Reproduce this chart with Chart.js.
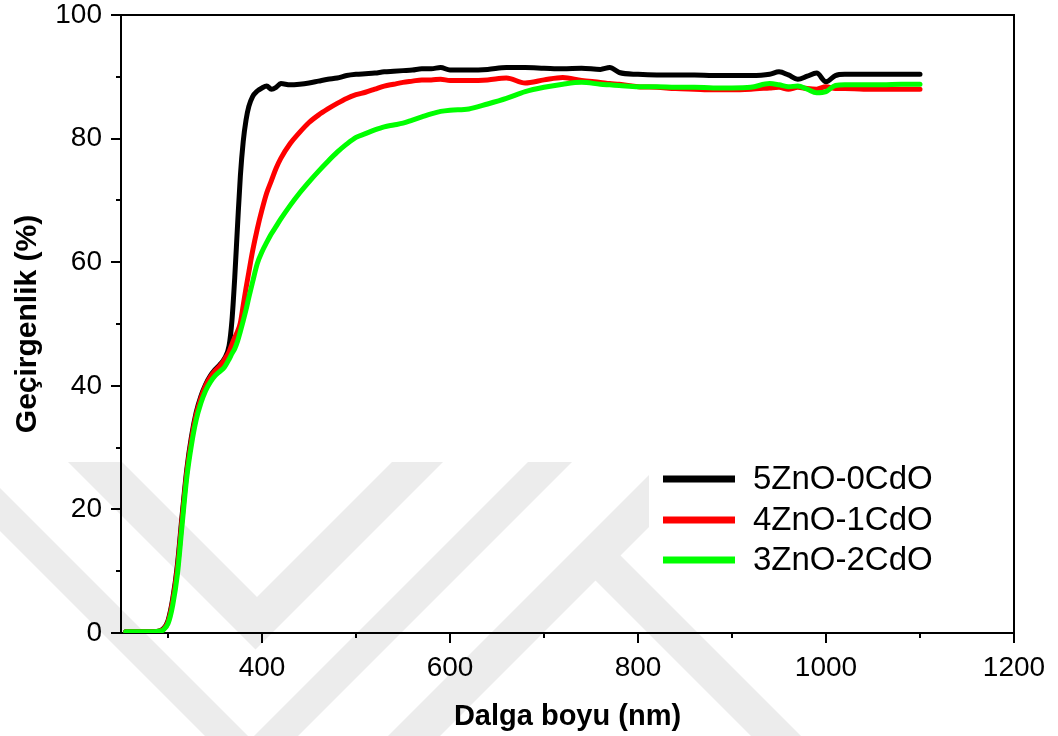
<!DOCTYPE html>
<html>
<head>
<meta charset="utf-8">
<script src="https://cdn.jsdelivr.net/npm/chart.js@4.4.0/dist/chart.umd.min.js"></script>
<style>
  html, body { margin: 0; padding: 0; background: #ffffff; }
  #wrap { width: 1058px; height: 736px; }
</style>
</head>
<body>
<div id="wrap"><canvas id="chart" width="1058" height="736"></canvas></div>
<script>
// Wavelength grid (nm)
const wavelength = [
  255, 260, 270, 280, 290, 295, 300, 305, 310, 315, 320, 325, 330, 335, 340, 345, 350, 355, 360, 365,
  368, 371, 374, 377, 380, 383, 386, 390, 395, 400, 405, 410, 415, 420, 430, 440, 450, 460, 470, 480,
  490, 500, 510, 520, 530, 540, 550, 560, 570, 580, 590, 600, 620, 640, 660, 680, 700, 720, 740, 760,
  770, 780, 800, 820, 840, 860, 880, 900, 920, 940, 950, 960, 970, 980, 990, 1000, 1010, 1020, 1040, 1060,
  1080, 1100
];

// Transmittance (%) of each film
const trans5Zn0Cd = [
  0.2, 0.2, 0.2, 0.2, 0.3, 0.7, 2.0, 5.5, 11.0, 19.0, 26.5, 31.8, 35.7, 38.3, 40.2, 41.6, 42.6, 43.4, 44.4, 46.5,
  50.5, 57.5, 66.0, 74.0, 79.5, 83.0, 85.2, 86.8, 87.7, 88.2, 88.5, 88.0, 88.3, 88.9, 88.7, 88.8, 89.0, 89.3, 89.6, 89.8,
  90.2, 90.4, 90.5, 90.6, 90.8, 90.9, 91.0, 91.1, 91.3, 91.3, 91.5, 91.1, 91.1, 91.2, 91.5, 91.5, 91.4, 91.3, 91.4, 91.2,
  91.5, 90.7, 90.4, 90.3, 90.3, 90.3, 90.2, 90.2, 90.2, 90.4, 90.8, 90.3, 89.6, 90.1, 90.6, 89.2, 90.2, 90.4, 90.4, 90.4,
  90.4, 90.4
];
const trans4Zn1Cd = [
  0.2, 0.2, 0.2, 0.2, 0.3, 0.6, 1.8, 5.2, 10.5, 18.5, 26.0, 31.3, 35.3, 38.0, 40.0, 41.4, 42.4, 43.2, 44.2, 45.5,
  46.7, 47.8, 48.8, 50.2, 53.0, 55.8, 58.4, 61.8, 65.4, 68.5, 71.2, 73.2, 75.2, 76.8, 79.2, 81.0, 82.6, 83.8, 84.8, 85.7,
  86.5, 87.1, 87.5, 88.0, 88.5, 88.8, 89.1, 89.3, 89.5, 89.5, 89.6, 89.4, 89.4, 89.5, 89.8, 89.0, 89.5, 89.9, 89.4, 89.1,
  88.9, 88.8, 88.4, 88.3, 88.1, 88.0, 87.9, 87.9, 88.0, 88.2, 88.3, 88.0, 88.3, 88.1, 88.0, 88.4, 88.1, 88.1, 88.0, 88.0,
  88.0, 88.0
];
const trans3Zn2Cd = [
  0.2, 0.2, 0.2, 0.2, 0.3, 0.5, 1.5, 4.5, 9.5, 17.5, 25.2, 30.5, 34.5, 37.2, 39.2, 40.6, 41.6, 42.3, 43.0, 44.3,
  45.2, 46.0, 47.2, 48.8, 50.5, 52.3, 54.3, 56.8, 59.8, 61.7, 63.2, 64.6, 65.8, 67.0, 69.2, 71.2, 73.0, 74.7, 76.3, 77.8,
  79.1, 80.2, 80.8, 81.4, 81.9, 82.2, 82.5, 83.0, 83.5, 84.0, 84.4, 84.6, 84.8, 85.6, 86.5, 87.6, 88.3, 88.8, 89.1, 88.8,
  88.7, 88.6, 88.4, 88.4, 88.3, 88.3, 88.2, 88.2, 88.3, 88.9, 88.7, 88.4, 88.5, 88.0, 87.4, 87.6, 88.6, 88.7, 88.7, 88.7,
  88.8, 88.8
];

const seriesLabels = ['5ZnO-0CdO', '4ZnO-1CdO', '3ZnO-2CdO'];
const seriesColors = ['#000000', '#ff0000', '#00ff00'];

// Axis ticks
const xMajorTicks = [400, 600, 800, 1000, 1200];
const xMinorTicks = [300, 500, 700, 900, 1100];
const yMajorTicks = [0, 20, 40, 60, 80, 100];
const yMinorTicks = [10, 30, 50, 70, 90];

const FONT = "'Liberation Sans', Arial, Helvetica, sans-serif";

function toPoints(values) {
  return wavelength.map((w, i) => ({ x: w, y: values[i] }));
}

// Faint diagonal page watermark behind the plot
const pageWatermark = {
  id: 'pageWatermark',
  beforeDraw(chart) {
    const { ctx } = chart;
    const shapes = [
      [[68, 462], [122, 462], [257, 597], [392, 462], [443, 462], [255.5, 649.5]],
      [[-69, 462], [-26, 462], [251, 739], [528, 462], [572, 462], [251.5, 782.5]],
      [[662, 462], [714, 462], [440, 736], [388, 736]],
      [[607.5, 542.5], [801, 736], [751, 736], [582.5, 567.5]]
    ];
    ctx.save();
    ctx.beginPath();
    ctx.rect(0, 462, chart.width, chart.height - 462);
    ctx.clip();
    ctx.fillStyle = '#ececec';
    shapes.forEach(pts => {
      ctx.beginPath();
      pts.forEach(([px, py], i) => (i ? ctx.lineTo(px, py) : ctx.moveTo(px, py)));
      ctx.closePath();
      ctx.fill();
    });
    ctx.restore();
  }
};

// Tick marks (long majors, short minors) and the top/right frame lines
const frameTicks = {
  id: 'frameTicks',
  afterDraw(chart) {
    const { ctx, chartArea: a, scales: { x, y } } = chart;
    ctx.save();
    ctx.strokeStyle = '#000';
    ctx.lineWidth = 2;
    ctx.lineCap = 'butt';
    ctx.beginPath();
    ctx.moveTo(a.left, a.top);
    ctx.lineTo(a.right, a.top);
    ctx.lineTo(a.right, a.bottom);
    xMajorTicks.forEach(v => {
      const p = Math.round(x.getPixelForValue(v));
      ctx.moveTo(p, a.bottom); ctx.lineTo(p, a.bottom + 10);
    });
    xMinorTicks.forEach(v => {
      const p = Math.round(x.getPixelForValue(v));
      ctx.moveTo(p, a.bottom); ctx.lineTo(p, a.bottom + 5);
    });
    yMajorTicks.forEach(v => {
      const p = Math.round(y.getPixelForValue(v));
      ctx.moveTo(a.left, p); ctx.lineTo(a.left - 10, p);
    });
    yMinorTicks.forEach(v => {
      const p = Math.round(y.getPixelForValue(v));
      ctx.moveTo(a.left, p); ctx.lineTo(a.left - 5, p);
    });
    ctx.stroke();
    ctx.restore();
  }
};

// Legend inside the plot, lower right
const insetLegend = {
  id: 'insetLegend',
  afterDatasetsDraw(chart) {
    const { ctx } = chart;
    const box = { left: 649, top: 456, right: 950, bottom: 580 };
    const rows = [479, 520, 560];
    ctx.save();
    ctx.fillStyle = '#ffffff';
    ctx.fillRect(box.left, box.top, box.right - box.left, box.bottom - box.top);
    ctx.font = '33px ' + FONT;
    ctx.textBaseline = 'middle';
    ctx.textAlign = 'left';
    chart.data.datasets.forEach((ds, i) => {
      ctx.strokeStyle = ds.borderColor;
      ctx.lineWidth = 7;
      ctx.beginPath();
      ctx.moveTo(663, rows[i]);
      ctx.lineTo(735, rows[i]);
      ctx.stroke();
      ctx.fillStyle = '#000';
      ctx.fillText(ds.label, 753, rows[i] + 1);
    });
    ctx.restore();
  }
};

new Chart(document.getElementById('chart'), {
  type: 'line',
  data: {
    datasets: [trans5Zn0Cd, trans4Zn1Cd, trans3Zn2Cd].map((vals, i) => ({
      label: seriesLabels[i],
      data: toPoints(vals),
      borderColor: seriesColors[i],
      backgroundColor: seriesColors[i],
      borderWidth: 5,
      pointRadius: 0,
      fill: false,
      cubicInterpolationMode: 'monotone',
      borderJoinStyle: 'round',
      borderCapStyle: 'round',
      order: 3 - i
    }))
  },
  options: {
    responsive: false,
    animation: false,
    devicePixelRatio: 1,
    layout: { padding: { left: 0, right: 44, top: 15, bottom: 0 } },
    plugins: {
      legend: { display: false },
      tooltip: { enabled: false }
    },
    scales: {
      x: {
        type: 'linear',
        min: 250,
        max: 1200,
        afterBuildTicks: s => { s.ticks = xMajorTicks.map(v => ({ value: v })); },
        afterFit: s => { s.height = 103; s.paddingLeft = 0; s.paddingRight = 0; },
        grid: { display: false, drawTicks: false },
        border: { display: true, color: '#000', width: 2 },
        ticks: {
          padding: 21, color: '#000', autoSkip: false, maxRotation: 0,
          font: { family: FONT, size: 28, lineHeight: 1.0 },
          callback: v => String(v)
        },
        title: {
          display: true, text: 'Dalga boyu (nm)', color: '#000',
          font: { family: FONT, size: 29, weight: 'bold', lineHeight: 1.2 },
          padding: { top: 0, bottom: 2 }
        }
      },
      y: {
        type: 'linear',
        min: 0,
        max: 100,
        afterBuildTicks: s => { s.ticks = yMajorTicks.map(v => ({ value: v })); },
        afterFit: s => { s.width = 121; s.paddingTop = 0; s.paddingBottom = 0; },
        grid: { display: false, drawTicks: false },
        border: { display: true, color: '#000', width: 2 },
        ticks: {
          padding: 19, color: '#000',
          font: { family: FONT, size: 28, lineHeight: 1.0 },
          callback: v => String(v)
        },
        title: {
          display: true, text: 'Geçirgenlik (%)', color: '#000',
          font: { family: FONT, size: 30, weight: 'bold', lineHeight: 1.2 },
          padding: { top: 10, bottom: 0 }
        }
      }
    }
  },
  plugins: [pageWatermark, frameTicks, insetLegend]
});
</script>
</body>
</html>
